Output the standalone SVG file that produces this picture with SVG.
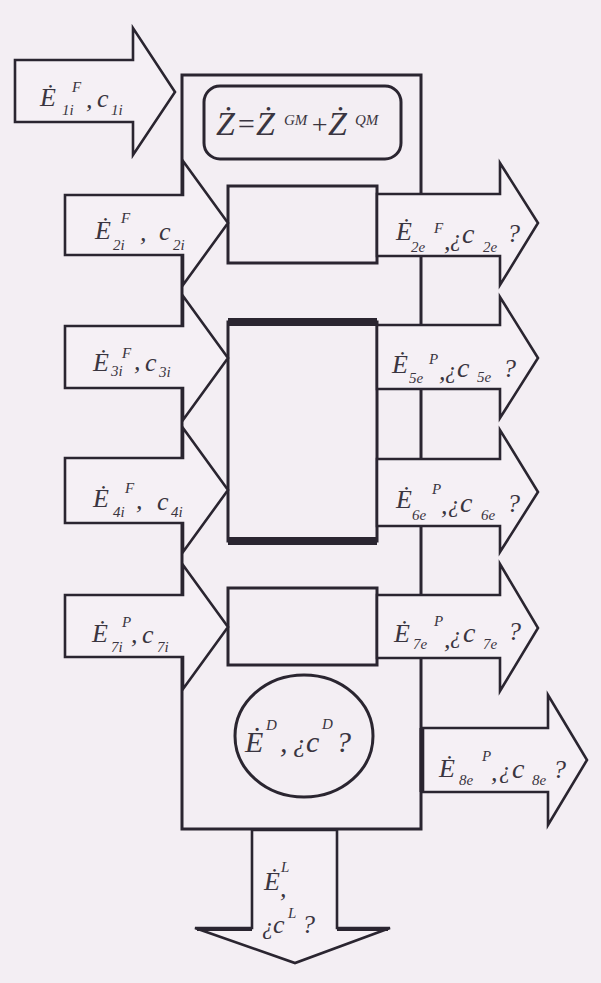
<svg xmlns="http://www.w3.org/2000/svg" width="601" height="983" viewBox="0 0 601 983">
<style>
.bg{fill:#f3eef3}
.box{fill:#f3eef3;stroke:#2a2530;stroke-width:3}
.arr{fill:#f5f0f5;stroke:#2a2530;stroke-width:2.6;stroke-linejoin:miter}
text{font-family:"Liberation Serif","Times New Roman",serif;font-style:italic;fill:#3a3540}
.m{font-size:26px}
.q{font-size:23px}
.k{font-size:28px}
.s{font-size:15px}
.f{font-size:34px}
.fs{font-size:15px}
.c{font-size:30px}
</style>
<rect class="bg" x="0" y="0" width="601" height="983"/>

<g id="system">
<rect class="box" x="182" y="75" width="239" height="754" stroke-width="3.6"/>
</g>
<g id="formula">
<rect class="box" x="204" y="86" width="197" height="73" rx="16" ry="16" stroke-width="3.2"/>
<text class="f" x="216" y="135">Ż</text>
<text x="236" y="134" font-size="30" font-style="normal">=</text>
<text class="f" x="256" y="135">Ż</text>
<text class="fs" x="284" y="125">GM</text>
<text x="310" y="134" font-size="28" font-style="normal">+</text>
<text class="f" x="328" y="135">Ż</text>
<text class="fs" x="355" y="125">QM</text>
</g>
<g id="box2"><rect class="box" x="228" y="186" width="149" height="77"/></g>
<g id="box3">
<rect class="box" x="228" y="322" width="149" height="219"/>
<rect x="228" y="318" width="149" height="8" fill="#2a2530"/>
<rect x="228" y="537" width="149" height="8" fill="#2a2530"/>
</g>
<g id="box4"><rect class="box" x="228" y="588" width="149" height="77"/></g>
<g id="dissipation">
<ellipse class="box" cx="304" cy="736" rx="69" ry="61"/>
<text class="c" x="245" y="752">Ė</text>
<text class="s" x="266" y="730">D</text>
<text class="c" x="280" y="752">,</text>
<text class="m" x="293" y="752">¿</text>
<text class="c" x="306" y="752">c</text>
<text class="s" x="322" y="729">D</text>
<text class="c" x="336" y="752">?</text>
</g>

<g id="connectors">
<g id="in1">
<polygon class="arr" points="15,60 133,60 133,28 175,92 133,155 133,122 15,122"/>
<text class="m" x="40" y="106">Ė</text><text class="s" x="62" y="115">1i</text><text class="s" x="72" y="92">F</text>
<text class="m" x="86" y="108">,</text><text class="m" x="97" y="107">c</text><text class="s" x="111" y="115">1i</text>
</g>
<g id="in2">
<polygon class="arr" points="65,195 183,195 183,161 228,223 183,285 183,255 65,255"/>
<text class="m" x="95" y="239">Ė</text><text class="s" x="113" y="250">2i</text><text class="s" x="121" y="223">F</text>
<text class="m" x="140" y="241">,</text><text class="m" x="159" y="240">c</text><text class="s" x="173" y="250">2i</text>
</g>
<g id="in3">
<polygon class="arr" points="65,326 183,326 183,296 228,358 183,420 183,388 65,388"/>
<text class="m" x="93" y="371">Ė</text><text class="s" x="111" y="376">3i</text><text class="s" x="122" y="358">F</text>
<text class="m" x="134" y="370">,</text><text class="m" x="145" y="371">c</text><text class="s" x="159" y="377">3i</text>
</g>
<g id="in4">
<polygon class="arr" points="65,458 183,458 183,428 228,490 183,552 183,523 65,523"/>
<text class="m" x="93" y="507">Ė</text><text class="s" x="113" y="517">4i</text><text class="s" x="125" y="493">F</text>
<text class="m" x="136" y="509">,</text><text class="m" x="157" y="510">c</text><text class="s" x="171" y="517">4i</text>
</g>
<g id="in7">
<polygon class="arr" points="65,595 183,595 183,565 228,627 183,689 183,657 65,657"/>
<text class="m" x="92" y="642">Ė</text><text class="s" x="111" y="652">7i</text><text class="s" x="122" y="627">P</text>
<text class="m" x="131" y="643">,</text><text class="m" x="142" y="643">c</text><text class="s" x="157" y="652">7i</text>
</g>

<g id="out2">
<polygon class="arr" points="377,194 500,194 500,163 538,223 500,285 500,256 377,256"/>
<text class="m" x="396" y="240">Ė</text><text class="s" x="411" y="252">2e</text><text class="s" x="434" y="233">F</text>
<text class="m" x="444" y="250">,</text><text class="q" x="450" y="246">¿</text><text class="k" x="462" y="243">c</text><text class="s" x="483" y="252">2e</text><text class="m" x="507" y="242">?</text>
</g>
<g id="out5">
<polygon class="arr" points="377,325 500,325 500,297 538,358 500,418 500,389 377,389"/>
<text class="m" x="392" y="373">Ė</text><text class="s" x="409" y="383">5e</text><text class="s" x="429" y="364">P</text>
<text class="m" x="439" y="380">,</text><text class="q" x="445" y="378">¿</text><text class="k" x="457" y="377">c</text><text class="s" x="477" y="382">5e</text><text class="m" x="503" y="377">?</text>
</g>
<g id="out6">
<polygon class="arr" points="377,459 500,459 500,430 538,492 500,552 500,526 377,526"/>
<text class="m" x="396" y="508">Ė</text><text class="s" x="412" y="520">6e</text><text class="s" x="432" y="494">P</text>
<text class="m" x="441" y="514">,</text><text class="q" x="448" y="512">¿</text><text class="k" x="460" y="512">c</text><text class="s" x="481" y="520">6e</text><text class="m" x="507" y="512">?</text>
</g>
<g id="out7">
<polygon class="arr" points="377,595 500,595 500,564 538,628 500,691 500,658 377,658"/>
<text class="m" x="394" y="642">Ė</text><text class="s" x="413" y="649">7e</text><text class="s" x="434" y="626">P</text>
<text class="m" x="444" y="648">,</text><text class="q" x="450" y="643">¿</text><text class="k" x="463" y="642">c</text><text class="s" x="483" y="649">7e</text><text class="m" x="508" y="640">?</text>
</g>
<g id="out8">
<line x1="422" y1="728" x2="422" y2="792" stroke="#2a2530" stroke-width="5"/>
<polygon class="arr" points="423,728 548,728 548,695 587,760 548,825 548,792 423,792"/>
<text class="m" x="439" y="777">Ė</text><text class="s" x="459" y="785">8e</text><text class="s" x="482" y="761">P</text>
<text class="m" x="491" y="781">,</text><text class="q" x="499" y="778">¿</text><text class="k" x="512" y="778">c</text><text class="s" x="532" y="785">8e</text><text class="m" x="553" y="778">?</text>
</g>
<g id="loss">
<polygon class="arr" points="252,830 337,830 337,928 390,928 295,963 195,928 252,928"/>
<line x1="197" y1="929" x2="252" y2="929" stroke="#2a2530" stroke-width="4"/>
<line x1="337" y1="929" x2="388" y2="929" stroke="#2a2530" stroke-width="4"/>
<text class="m" x="264" y="890">Ė</text><text class="s" x="281" y="872">L</text><text class="m" x="280" y="897">,</text>
<text class="q" x="262" y="934">¿</text><text class="m" x="273" y="933">c</text><text class="s" x="288" y="918">L</text><text class="m" x="302" y="933">?</text>
</g>
</g>
</svg>
